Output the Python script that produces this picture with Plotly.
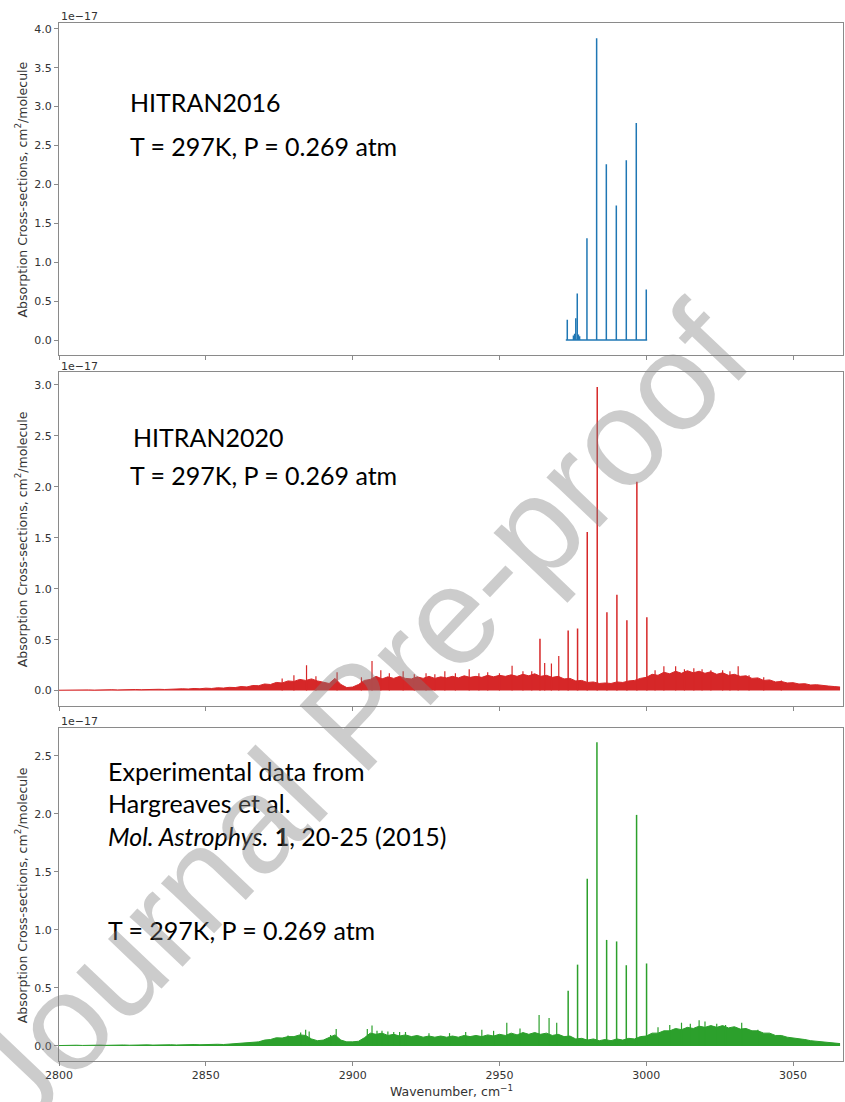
import plotly.graph_objects as go

# ---------------- data (cross-sections in units of 1e-17 cm^2/molecule) ----------------
x_ticks = [2800, 2850, 2900, 2950, 3000, 3050]

# HITRAN2016 (blue)
h16_base = [2972.6, 3000.3]
h16_pos = [2973.1, 2975.2, 2975.6, 2976.0, 2976.5, 2976.9, 2977.3, 2979.8, 2983.1, 2986.4, 2989.8, 2993.2, 2996.6, 3000.0]
h16_int = [0.26, 0.06, 0.08, 0.28, 0.60, 0.07, 0.05, 1.31, 3.88, 2.26, 1.73, 2.31, 2.79, 0.65]

# HITRAN2020 (red)
bg_x = [2800 + 2 * i for i in range(134)]
h20_bg = [0.004, 0.006, 0.004, 0.007, 0.005, 0.007, 0.005, 0.008, 0.006, 0.009,
          0.007, 0.010, 0.008, 0.011, 0.009, 0.012, 0.010, 0.013, 0.011, 0.015,
          0.013, 0.018, 0.016, 0.021, 0.018, 0.024, 0.021, 0.028, 0.025, 0.032,
          0.030, 0.040, 0.036, 0.050, 0.048, 0.065, 0.060, 0.080, 0.075, 0.095,
          0.090, 0.110, 0.100, 0.115, 0.095, 0.085, 0.070, 0.120, 0.060, 0.030,
          0.035, 0.060, 0.100, 0.110, 0.140, 0.115, 0.135, 0.120, 0.140, 0.120,
          0.115, 0.135, 0.120, 0.140, 0.120, 0.135, 0.125, 0.140, 0.125, 0.145,
          0.130, 0.140, 0.130, 0.150, 0.135, 0.150, 0.140, 0.155, 0.140, 0.160,
          0.145, 0.165, 0.140, 0.150, 0.130, 0.140, 0.115, 0.120, 0.095, 0.100,
          0.080, 0.085, 0.070, 0.075, 0.070, 0.085, 0.080, 0.095, 0.100, 0.120,
          0.130, 0.160, 0.150, 0.180, 0.165, 0.190, 0.170, 0.195, 0.175, 0.190,
          0.170, 0.185, 0.160, 0.175, 0.150, 0.160, 0.140, 0.145, 0.120, 0.125,
          0.100, 0.105, 0.085, 0.090, 0.075, 0.078, 0.065, 0.068, 0.055, 0.058,
          0.048, 0.045, 0.040, 0.035]
h20_weak_pos = [2876.0, 2880.0, 2884.3, 2887.5, 2894.7, 2903.0, 2906.6, 2909.6, 2912.5, 2917.2,
                2921.0, 2925.0, 2928.0, 2931.4, 2935.0, 2939.7, 2943.0, 2946.0, 2950.0, 2954.3,
                2958.0, 2961.0, 2965.4, 2967.7, 2970.2, 3003.0, 3006.0, 3010.0, 3013.0, 3016.2,
                3019.0, 3022.0, 3026.0, 3028.5, 3031.3, 3035.0, 3040.0, 3046.0]
h20_weak_int = [0.12, 0.15, 0.25, 0.14, 0.18, 0.13, 0.29, 0.20, 0.17, 0.19,
                0.16, 0.17, 0.16, 0.19, 0.17, 0.21, 0.17, 0.18, 0.17, 0.245,
                0.19, 0.19, 0.27, 0.265, 0.34, 0.20, 0.24, 0.24, 0.21, 0.22,
                0.21, 0.20, 0.20, 0.19, 0.24, 0.15, 0.13, 0.10]
h20_pos = [2963.8, 2973.4, 2976.6, 2979.9, 2983.3, 2986.6, 2990.0, 2993.4, 2996.8, 3000.2]
h20_int = [0.51, 0.59, 0.61, 1.556, 2.98, 0.77, 0.94, 0.69, 2.05, 0.72]

# Experimental, Hargreaves et al. (green)
exp_bg = [0.003, 0.005, 0.004, 0.006, 0.004, 0.006, 0.005, 0.007, 0.005, 0.007,
          0.006, 0.008, 0.006, 0.008, 0.007, 0.009, 0.007, 0.009, 0.008, 0.010,
          0.008, 0.011, 0.009, 0.012, 0.010, 0.013, 0.011, 0.014, 0.012, 0.016,
          0.015, 0.020, 0.022, 0.030, 0.035, 0.050, 0.055, 0.070, 0.068, 0.080,
          0.080, 0.095, 0.090, 0.060, 0.045, 0.050, 0.070, 0.095, 0.050, 0.035,
          0.035, 0.040, 0.070, 0.110, 0.100, 0.110, 0.090, 0.100, 0.085, 0.095,
          0.080, 0.090, 0.075, 0.085, 0.075, 0.085, 0.075, 0.085, 0.075, 0.090,
          0.080, 0.090, 0.080, 0.095, 0.085, 0.100, 0.090, 0.110, 0.095, 0.115,
          0.100, 0.115, 0.100, 0.110, 0.090, 0.100, 0.080, 0.085, 0.060, 0.065,
          0.050, 0.060, 0.045, 0.055, 0.045, 0.060, 0.050, 0.065, 0.060, 0.080,
          0.085, 0.110, 0.110, 0.130, 0.130, 0.150, 0.140, 0.160, 0.150, 0.170,
          0.160, 0.175, 0.160, 0.175, 0.155, 0.165, 0.145, 0.150, 0.130, 0.130,
          0.110, 0.110, 0.090, 0.090, 0.075, 0.070, 0.060, 0.055, 0.045, 0.040,
          0.032, 0.030, 0.025, 0.020]
exp_weak_pos = [2878.0, 2882.3, 2884.0, 2885.2, 2892.5, 2894.4, 2905.0, 2906.6, 2908.3, 2910.0,
                2912.0, 2914.0, 2916.0, 2918.0, 2926.0, 2933.0, 2938.5, 2944.0, 2948.0, 2952.5,
                2957.0, 2963.5, 2966.9, 2969.5, 3004.0, 3008.0, 3012.0, 3015.0, 3018.0, 3020.0,
                3024.0, 3027.0, 3032.5, 3038.0]
exp_weak_int = [0.09, 0.115, 0.14, 0.125, 0.095, 0.145, 0.145, 0.175, 0.13, 0.13,
                0.125, 0.12, 0.12, 0.12, 0.11, 0.11, 0.12, 0.14, 0.13, 0.20,
                0.15, 0.267, 0.24, 0.20, 0.16, 0.18, 0.20, 0.19, 0.22, 0.21,
                0.19, 0.18, 0.20, 0.14]
exp_pos = [2973.4, 2976.6, 2979.9, 2983.2, 2986.5, 2989.9, 2993.2, 2996.7, 3000.1]
exp_int = [0.476, 0.70, 1.44, 2.615, 0.913, 0.90, 0.695, 1.99, 0.71]

BLUE, RED, GREEN = "#1f77b4", "#d62728", "#2ca02c"


def stems(pos, ints):
    xs, ys = [], []
    for p, h in zip(pos, ints):
        xs += [p, p, None]
        ys += [0, h, None]
    return xs, ys


fig = go.Figure()

# panel 1 - HITRAN2016
sx, sy = stems(h16_pos, h16_int)
fig.add_trace(go.Scatter(x=h16_base, y=[0, 0], mode="lines", line=dict(color=BLUE, width=1.5),
                         xaxis="x", yaxis="y", showlegend=False))
fig.add_trace(go.Scatter(x=sx, y=sy, mode="lines", line=dict(color=BLUE, width=1.5),
                         xaxis="x", yaxis="y", showlegend=False))

# panel 2 - HITRAN2020
fig.add_trace(go.Scatter(x=bg_x, y=h20_bg, mode="lines", fill="tozeroy", fillcolor=RED,
                         line=dict(color=RED, width=1), xaxis="x2", yaxis="y2", showlegend=False))
sx, sy = stems(h20_weak_pos, h20_weak_int)
fig.add_trace(go.Scatter(x=sx, y=sy, mode="lines", line=dict(color=RED, width=1.2),
                         xaxis="x2", yaxis="y2", showlegend=False))
sx, sy = stems(h20_pos, h20_int)
fig.add_trace(go.Scatter(x=sx, y=sy, mode="lines", line=dict(color=RED, width=1.5),
                         xaxis="x2", yaxis="y2", showlegend=False))

# panel 3 - experiment
fig.add_trace(go.Scatter(x=bg_x, y=exp_bg, mode="lines", fill="tozeroy", fillcolor=GREEN,
                         line=dict(color=GREEN, width=1), xaxis="x3", yaxis="y3", showlegend=False))
sx, sy = stems(exp_weak_pos, exp_weak_int)
fig.add_trace(go.Scatter(x=sx, y=sy, mode="lines", line=dict(color=GREEN, width=1.2),
                         xaxis="x3", yaxis="y3", showlegend=False))
sx, sy = stems(exp_pos, exp_int)
fig.add_trace(go.Scatter(x=sx, y=sy, mode="lines", line=dict(color=GREEN, width=1.5),
                         xaxis="x3", yaxis="y3", showlegend=False))

AX = "#8a8a8a"
TICKFONT = dict(family="DejaVu Sans", size=11, color="#333333")


def xax(anchor, labels):
    return dict(domain=[0, 1], anchor=anchor, range=[2800, 3067], tickvals=x_ticks,
                showticklabels=labels, ticks="outside", ticklen=4, tickcolor=AX,
                showline=True, linecolor=AX, linewidth=1, mirror=True, showgrid=False,
                zeroline=False, tickfont=TICKFONT)


def yax(anchor, dom, rng, tv):
    return dict(domain=dom, anchor=anchor, range=rng, tickvals=tv,
                ticktext=["%.1f" % v for v in tv], ticks="outside", ticklen=4, tickcolor=AX,
                showline=True, linecolor=AX, linewidth=1, mirror=True, showgrid=False,
                zeroline=False, tickfont=TICKFONT)


fig.update_layout(
    width=845, height=1102,
    margin=dict(l=59, r=2, t=23, b=41),
    paper_bgcolor="white", plot_bgcolor="white",
    xaxis=xax("y", False),
    xaxis2=xax("y2", False),
    xaxis3=xax("y3", True),
    yaxis=yax("x", [0.680, 1.0], [-0.194, 4.075], [0, 0.5, 1.0, 1.5, 2.0, 2.5, 3.0, 3.5, 4.0]),
    yaxis2=yax("x2", [0.3423, 0.6638], [-0.148, 3.127], [0, 0.5, 1.0, 1.5, 2.0, 2.5, 3.0]),
    yaxis3=yax("x3", [0.0, 0.3211], [-0.13, 2.741], [0, 0.5, 1.0, 1.5, 2.0, 2.5]),
)

ann = []
YT = "Absorption Cross-sections, cm<sup>2</sup>/molecule"
for yc in [0.840, 0.503, 0.160]:
    ann.append(dict(text=YT, xref="paper", yref="paper", x=-0.048, y=yc, textangle=-90,
                    showarrow=False, xanchor="center", yanchor="middle",
                    font=dict(family="DejaVu Sans", size=12.5, color="#333333")))
for yc in [1.0058, 0.6686, 0.3266]:
    ann.append(dict(text="1e\u221217", xref="paper", yref="paper", x=0.0, y=yc, showarrow=False,
                    xanchor="left", yanchor="middle", font=dict(family="DejaVu Sans", size=11, color="#333333")))
ann.append(dict(text="Wavenumber, cm<sup>\u22121</sup>", xref="paper", yref="paper", x=0.5, y=-0.029,
                showarrow=False, xanchor="center", yanchor="middle",
                font=dict(family="DejaVu Sans", size=12.5, color="#333333")))

BIG = dict(family="Lato", size=25, color="black")
labels = [
    ("HITRAN2016", 0.0880, 0.9239),
    ("T = 297K, P = 0.269 atm", 0.0880, 0.8815),
    ("HITRAN2020", 0.0918, 0.6012),
    ("T = 297K, P = 0.269 atm", 0.0880, 0.5645),
    ("Experimental data from", 0.0600, 0.2794),
    ("Hargreaves et al.", 0.0600, 0.2486),
    ("<i>Mol. Astrophys.</i> <b>1</b>, 20-25 (2015)", 0.0600, 0.2168),
    ("T = 297K, P = 0.269 atm", 0.0600, 0.1262),
]
for t, xx, yy in labels:
    ann.append(dict(text=t, xref="paper", yref="paper", x=xx, y=yy, showarrow=False,
                    xanchor="left", yanchor="middle", font=BIG))

# watermark
ann.append(dict(text="Journal Pre-proof", xref="paper", yref="paper", x=0.378, y=0.333,
                showarrow=False, xanchor="center", yanchor="middle", textangle=-46.5,
                font=dict(family="Liberation Sans", size=138, color="rgba(128,128,128,0.4)")))
fig.update_layout(annotations=ann)

fig.write_html("out.html", config={"displayModeBar": False})
